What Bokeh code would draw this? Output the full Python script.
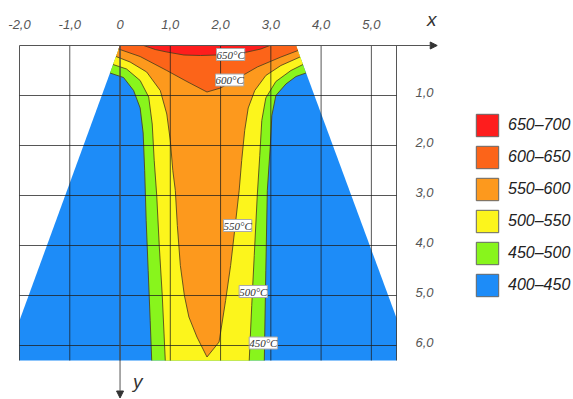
from bokeh.plotting import figure
from bokeh.models import (Range1d, ColumnDataSource, LabelSet, Label, Arrow, NormalHead,
                          Legend, LegendItem)
from bokeh.core.properties import value
from bokeh.embed import file_html
from bokeh.resources import INLINE

# axis ticks and their labels (comma decimals)
x_ticks = [-2, -1, 0, 1, 2, 3, 4, 5]
x_tick_labels = ["-2,0", "-1,0", "0", "1,0", "2,0", "3,0", "4,0", "5,0"]
y_ticks = [1, 2, 3, 4, 5, 6]
y_tick_labels = ["1,0", "2,0", "3,0", "4,0", "5,0", "6,0"]

# extent of the gridded field
field_left, field_right = -2.0, 5.5
field_top, field_bottom = 0.0, 6.3

# outline of the cross-section
domain_x = [0.0, 3.5, 5.5, 5.5, -2.0, -2.0]
domain_y = [0.0, 0.0, 5.45, 6.3, 6.3, 5.5]

# isotherms (x, y); left branches run downwards, right branches upwards
iso450_left_x = [-0.20, 0.07, 0.27, 0.40, 0.46, 0.49, 0.52, 0.56, 0.60, 0.63]
iso450_left_y = [0.55, 0.64, 0.90, 1.25, 1.75, 2.50, 3.50, 4.50, 5.50, 6.30]
iso450_right_x = [2.87, 2.90, 2.93, 2.99, 3.02, 3.10, 3.30, 3.50, 3.70]
iso450_right_y = [6.30, 4.50, 2.90, 2.00, 1.40, 1.00, 0.77, 0.62, 0.55]

iso500_left_x = [-0.14, 0.13, 0.40, 0.57, 0.64, 0.68, 0.73, 0.78, 0.84, 0.90]
iso500_left_y = [0.38, 0.47, 0.70, 1.03, 1.57, 2.30, 3.00, 4.00, 5.00, 6.30]
iso500_right_x = [2.57, 2.62, 2.67, 2.73, 2.78, 2.82, 2.90, 3.10, 3.40, 3.64]
iso500_right_y = [6.30, 5.20, 4.20, 3.00, 2.20, 1.50, 1.05, 0.72, 0.50, 0.38]

iso550_x = [-0.08, 0.20, 0.53, 0.80, 0.93, 1.00, 1.05, 1.10, 1.14, 1.20, 1.28, 1.37, 1.53,
            1.73, 1.97, 2.10, 2.20, 2.28, 2.37, 2.42, 2.48, 2.55, 2.68, 2.90, 3.20, 3.58]
iso550_y = [0.22, 0.33, 0.53, 0.90, 1.37, 1.90, 2.50, 2.90, 3.60, 4.40, 5.00, 5.43, 5.83,
            6.23, 5.93, 5.10, 4.40, 3.70, 2.90, 2.30, 1.70, 1.25, 0.90, 0.60, 0.40, 0.23]

iso600_x = [-0.03, 0.40, 0.93, 1.33, 1.73, 2.00, 2.35, 2.73, 3.20, 3.54]
iso600_y = [0.07, 0.22, 0.50, 0.72, 0.93, 0.85, 0.65, 0.43, 0.23, 0.10]

iso650_x = [0.47, 0.70, 0.93, 1.27, 1.60, 1.93, 2.25, 2.53, 2.80, 2.98]
iso650_y = [0.00, 0.08, 0.13, 0.19, 0.20, 0.19, 0.17, 0.13, 0.07, 0.00]

# temperature bands
band_labels = ["650–700", "600–650", "550–600", "500–550", "450–500", "400–450"]
band_colors = ["#fe1d1d", "#fc6419", "#fd991d", "#fcf51c", "#88f51c", "#1d8cf8"]

# isotherm tags
tag_text = ["650°C", "600°C", "550°C", "500°C", "450°C"]
tag_x = [2.20, 2.18, 2.34, 2.65, 2.85]
tag_y = [0.18, 0.69, 3.60, 4.92, 5.95]

FONT = "Liberation Sans"

# the frame covers the whole canvas; axes, arrows and legend live inside it
p = figure(width=573, height=399, output_backend="svg", toolbar_location=None,
           x_range=Range1d(-2.378, 9.021), y_range=Range1d(7.08, -0.9),
           x_axis_location=None, y_axis_location=None, min_border=0)
p.outline_line_color = None
p.xgrid.visible = False
p.ygrid.visible = False
p.background_fill_color = "white"
p.border_fill_color = "white"

# filled regions, hottest last
corner_x = [domain_x[1], domain_x[0]]
corner_y = [domain_y[1], domain_y[0]]
fill_xs = [
    domain_x,
    iso450_left_x + iso450_right_x + corner_x,
    iso500_left_x + iso500_right_x + corner_x,
    iso550_x + corner_x,
    iso600_x + corner_x,
    iso650_x,
]
fill_ys = [
    domain_y,
    iso450_left_y + iso450_right_y + corner_y,
    iso500_left_y + iso500_right_y + corner_y,
    iso550_y + corner_y,
    iso600_y + corner_y,
    iso650_y,
]
p.patches(xs=fill_xs, ys=fill_ys, fill_color=band_colors[::-1], line_color=None)

# isotherm lines
p.multi_line(xs=[iso450_left_x, iso450_right_x, iso500_left_x, iso500_right_x,
                 iso550_x, iso600_x, iso650_x],
             ys=[iso450_left_y, iso450_right_y, iso500_left_y, iso500_right_y,
                 iso550_y, iso600_y, iso650_y],
             line_color="#4d3f1c", line_width=1, line_alpha=0.85)

# grid over the fills
vx = x_ticks + [field_right]
p.segment(x0=vx, y0=[field_top] * len(vx), x1=vx, y1=[field_bottom] * len(vx),
          line_color="#1e1e1e", line_alpha=0.75, line_width=1)
p.segment(x0=[field_left] * len(y_ticks), y0=y_ticks,
          x1=[field_right] * len(y_ticks), y1=y_ticks,
          line_color="#1e1e1e", line_alpha=0.75, line_width=1)

# tick labels
p.text(x=x_ticks, y=[field_top] * len(x_ticks), text=x_tick_labels, y_offset=-17,
       text_font=value(FONT), text_font_style="italic", text_font_size="13px",
       text_color="#555555", text_align="center", text_baseline="bottom")
p.text(x=[field_right] * len(y_ticks), y=y_ticks, text=y_tick_labels, x_offset=19,
       y_offset=1, text_font=value(FONT), text_font_style="italic", text_font_size="13px",
       text_color="#555555", text_align="left", text_baseline="bottom")

# axis arrows and names
p.add_layout(Arrow(end=NormalHead(size=7, fill_color="#333333", line_color="#333333"),
                   x_start=field_left, y_start=field_top, x_end=6.31, y_end=field_top,
                   line_color="#555555", line_width=1))
p.add_layout(Arrow(end=NormalHead(size=7, fill_color="#333333", line_color="#333333"),
                   x_start=0.0, y_start=field_top, x_end=0.0, y_end=7.05,
                   line_color="#555555", line_width=1))
p.add_layout(Label(x=6.2, y=-0.52, text="x", text_font=FONT, text_font_style="italic",
                   text_font_size="19px", text_color="#333333",
                   text_align="center", text_baseline="middle"))
p.add_layout(Label(x=0.35, y=6.72, text="y", text_font=FONT, text_font_style="italic",
                   text_font_size="19px", text_color="#333333",
                   text_align="center", text_baseline="middle"))

# isotherm tags
tags = ColumnDataSource(dict(x=tag_x, y=tag_y, text=tag_text))
p.add_layout(LabelSet(x="x", y="y", text="text", source=tags, text_font=FONT,
                      text_font_style="italic", text_font_size="11px", text_color="#333333",
                      text_align="center", text_baseline="middle",
                      background_fill_color="white", border_line_color="#aaaaaa",
                      border_line_width=1))

# legend swatches: hidden one-row quads that only serve the legend
items = []
for lab, col in zip(band_labels, band_colors):
    r = p.quad(left=[field_left], right=[field_left], top=[field_top], bottom=[field_top],
               fill_color=col, line_color="#666666", line_width=1, visible=False)
    items.append(LegendItem(label=lab, renderers=[r]))
legend = Legend(items=items, location=(473, 100), glyph_width=28, glyph_height=28,
                label_height=28, spacing=4, padding=0, margin=0, border_line_color=None,
                background_fill_alpha=0, label_standoff=7, click_policy="none",
                inactive_fill_alpha=0,
                label_text_font=FONT, label_text_font_style="italic",
                label_text_font_size="16px", label_text_color="#222222")
p.add_layout(legend, "center")

open("out.html", "w").write(file_html(p, INLINE))
